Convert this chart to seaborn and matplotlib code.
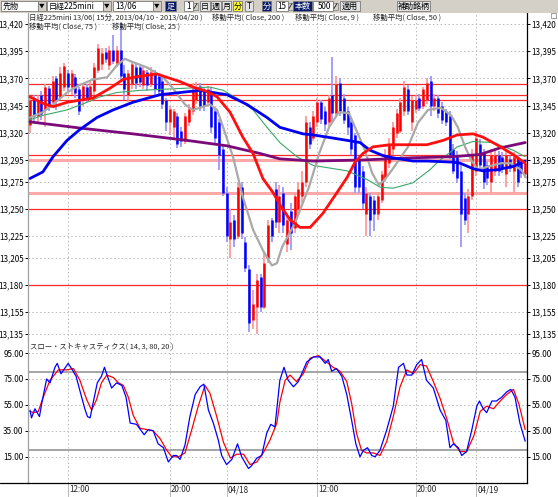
# 日経225mini 15分足チャート（移動平均＋スローストキャスティクス）
import numpy as np
import pandas as pd
import matplotlib.pyplot as plt
import matplotlib.transforms as mtransforms
from matplotlib.patches import Rectangle
import seaborn as sns

sns.set_style("white")
plt.rcParams['font.family'] = ['Noto Sans CJK JP', 'DejaVu Sans']

# ローソク足データ (15分足, 132本)
opens = [13327, 13352, 13335, 13355, 13341, 13361, 13348, 13370, 13353, 13362,
         13375, 13362, 13371, 13360, 13350, 13362, 13352, 13358, 13378, 13383,
         13394, 13382, 13396, 13384, 13396, 13375, 13355, 13365, 13380, 13380,
         13364, 13376, 13365, 13375, 13372, 13368, 13350, 13330, 13325, 13335,
         13322, 13312, 13330, 13340, 13350, 13363, 13358, 13348, 13357, 13340,
         13330, 13305, 13265, 13222, 13240, 13225, 13270, 13220, 13195, 13148,
         13160, 13187, 13160, 13205, 13240, 13268, 13238, 13265, 13218, 13248,
         13232, 13250, 13262, 13275, 13325, 13315, 13330, 13348, 13340, 13330,
         13355, 13338, 13366, 13352, 13340, 13330, 13318, 13295, 13285, 13245,
         13262, 13258, 13245, 13258, 13278, 13292, 13305, 13320, 13322, 13340,
         13360, 13330, 13342, 13352, 13345, 13350, 13368, 13345, 13352, 13345,
         13340, 13335, 13305, 13300, 13285, 13260, 13245, 13262, 13285, 13310,
         13302, 13290, 13275, 13285, 13300, 13298, 13282, 13296, 13285, 13298,
         13292, 13282]
closes = [13350, 13335, 13350, 13337, 13362, 13344, 13368, 13350, 13375, 13381,
          13362, 13375, 13357, 13340, 13363, 13352, 13363, 13380, 13398, 13393,
          13388, 13396, 13386, 13396, 13372, 13360, 13375, 13383, 13366, 13367,
          13378, 13364, 13376, 13360, 13358, 13346, 13330, 13342, 13340, 13310,
          13312, 13335, 13342, 13358, 13361, 13345, 13345, 13360, 13325, 13315,
          13300, 13265, 13225, 13238, 13222, 13270, 13228, 13196, 13145, 13163,
          13185, 13160, 13200, 13235, 13225, 13238, 13262, 13235, 13240, 13228,
          13262, 13268, 13275, 13330, 13310, 13335, 13348, 13333, 13328, 13352,
          13338, 13365, 13340, 13332, 13325, 13305, 13270, 13270, 13255, 13265,
          13240, 13245, 13262, 13282, 13300, 13310, 13325, 13338, 13348, 13362,
          13340, 13350, 13350, 13343, 13360, 13366, 13345, 13352, 13338, 13332,
          13330, 13300, 13285, 13278, 13245, 13240, 13262, 13300, 13315, 13290,
          13275, 13278, 13300, 13300, 13285, 13288, 13300, 13288, 13298, 13275,
          13283, 13292]
highs = [13353, 13355, 13355, 13358, 13365, 13363, 13372, 13372, 13380, 13384,
         13378, 13378, 13374, 13362, 13366, 13365, 13368, 13384, 13402, 13398,
         13398, 13400, 13410, 13400, 13422, 13382, 13378, 13386, 13383, 13383,
         13380, 13378, 13380, 13378, 13375, 13372, 13352, 13345, 13342, 13338,
         13325, 13338, 13346, 13366, 13367, 13366, 13362, 13363, 13362, 13342,
         13333, 13308, 13270, 13250, 13244, 13275, 13275, 13224, 13198, 13175,
         13190, 13190, 13210, 13240, 13242, 13275, 13272, 13270, 13245, 13255,
         13265, 13275, 13285, 13335, 13330, 13340, 13352, 13350, 13344, 13355,
         13390, 13372, 13370, 13356, 13344, 13334, 13320, 13298, 13289, 13270,
         13265, 13262, 13266, 13285, 13305, 13315, 13330, 13342, 13352, 13368,
         13364, 13354, 13355, 13356, 13362, 13370, 13372, 13356, 13355, 13348,
         13342, 13340, 13310, 13303, 13290, 13265, 13268, 13305, 13322, 13314,
         13305, 13294, 13305, 13304, 13303, 13302, 13304, 13299, 13302, 13300,
         13295, 13296]
lows = [13320, 13330, 13328, 13332, 13325, 13340, 13345, 13341, 13350, 13358,
        13358, 13355, 13352, 13336, 13345, 13348, 13348, 13355, 13375, 13378,
        13384, 13378, 13383, 13380, 13368, 13350, 13348, 13360, 13360, 13362,
        13360, 13358, 13362, 13355, 13355, 13342, 13322, 13318, 13315, 13306,
        13307, 13310, 13326, 13336, 13346, 13340, 13340, 13345, 13320, 13310,
        13286, 13262, 13220, 13205, 13215, 13222, 13222, 13192, 13137, 13140,
        13135, 13155, 13158, 13200, 13220, 13232, 13228, 13228, 13210, 13212,
        13228, 13245, 13255, 13270, 13305, 13312, 13325, 13328, 13322, 13326,
        13330, 13335, 13335, 13328, 13318, 13300, 13265, 13265, 13250, 13225,
        13225, 13230, 13240, 13255, 13275, 13288, 13300, 13315, 13320, 13335,
        13336, 13322, 13338, 13340, 13342, 13346, 13335, 13340, 13334, 13328,
        13326, 13296, 13282, 13274, 13215, 13235, 13228, 13258, 13280, 13285,
        13268, 13272, 13265, 13280, 13280, 13283, 13270, 13284, 13265, 13270,
        13278, 13278]

# 移動平均線 (足番号, 値)
ma9_x = [0, 3.4, 6.1, 9.8, 13.2, 16.7, 20.4, 23, 25.1, 27.2, 31, 35.2, 37.8, 41,
         43.1, 45, 47.6, 49.5, 51.1, 53.7, 56.3, 59, 61.6, 64, 65.3, 66.7, 70.1,
         73.8, 76.5, 79.1, 81.7, 84.4, 86, 88.6, 90.5, 92.3, 93.9, 95.8, 100,
         102.6, 105.3, 108.7, 111.4, 113.2, 115.1, 116.7, 118.5, 121.2, 124.6,
         127.2, 129.9, 131.2]
ma9_y = [13334, 13339, 13346, 13357, 13364, 13369, 13371, 13382, 13388, 13385,
         13380, 13371, 13361, 13346, 13341, 13343, 13346, 13341, 13325, 13298,
         13261, 13231, 13212, 13198, 13200, 13215, 13237, 13270, 13301, 13325,
         13339, 13338, 13325, 13304, 13283, 13272, 13277, 13286, 13307, 13329,
         13341, 13343, 13336, 13325, 13307, 13295, 13286, 13289, 13292, 13292,
         13286, 13279]
ma25_x = [0, 3.4, 9.8, 15.1, 18.5, 23, 29.1, 41.5, 47.6, 51.1, 55.6, 59, 62.7,
          66.1, 70.6, 74.9, 83.9, 89.2, 92.6, 96, 101.3, 105.8, 108.5, 113,
          117.2, 122.5, 127.8, 131]
ma25_y = [13332, 13336, 13341, 13348, 13353, 13357, 13359, 13361, 13362, 13359,
          13350, 13341, 13325, 13311, 13298, 13290, 13285, 13277, 13270, 13269,
          13274, 13286, 13295, 13307, 13312, 13311, 13304, 13298]
ma50_x = [0, 3.4, 6.1, 9.8, 16.7, 21.2, 24.6, 29.1, 33.6, 36.2, 39.7, 43.1,
          46.8, 49.5, 52.9, 56.3, 59, 61.6, 64.3, 66.1, 68.8, 71.4, 74.1, 77.5,
          81.2, 83.9, 86, 88.1, 90.7, 95.2, 105, 109.3, 113, 117.2, 119.8,
          123.5, 127.8, 131]
ma50_y = [13353, 13347, 13344, 13348, 13352, 13361, 13369, 13372, 13374, 13371,
          13367, 13362, 13358, 13353, 13339, 13316, 13301, 13278, 13265, 13254,
          13240, 13233, 13233, 13246, 13265, 13279, 13293, 13301, 13307, 13309,
          13309, 13313, 13318, 13319, 13316, 13309, 13300, 13292]
ma75_x = [0, 3.4, 6.1, 9.8, 13.2, 17.7, 22, 27.2, 34.4, 39.7, 45, 48.4, 52.1,
          57.4, 62.7, 66.1, 72.2, 74.9, 78.6, 83.9, 87.3, 89.9, 93.4, 96,
          101.3, 105, 111.9, 113.8, 117.2, 119.8, 123.5, 127.8, 131]
ma75_y = [13278, 13284, 13298, 13313, 13323, 13334, 13341, 13348, 13355, 13357,
          13359, 13357, 13355, 13346, 13334, 13325, 13319, 13318, 13316, 13313,
          13311, 13304, 13299, 13297, 13294, 13294, 13293, 13292, 13287, 13285,
          13286, 13289, 13294]
ma200_x = [0, 14, 27.2, 41.5, 52.1, 60.8, 66.1, 74.9, 88.1, 101.3, 111.9, 119,
           124.3, 131]
ma200_y = [13330, 13324, 13319, 13313, 13308, 13301, 13296, 13294, 13295, 13297,
           13298, 13300, 13306, 13311]

# スロー・ストキャスティクス
k_x = [0, 0.4, 1.3, 2.5, 3.1, 4.4, 5.3, 6.6, 7.2, 8.2, 10.1, 11, 12.2, 13.2,
       14.5, 15.2, 15.9, 16.8, 17.8, 18.9, 19.7, 20.5, 21.6, 22.9, 24.3, 25.4,
       26.5, 28.2, 30.2, 31.3, 32.6, 33.9, 35.3, 36.6, 37.9, 38.8, 39.7, 41,
       42.3, 43.7, 45, 46, 47.2, 48.5, 49.8, 50.7, 52, 53.4, 54.9, 56, 57.8,
       58.6, 60, 61.3, 62.6, 63.7, 64.8, 66.1, 67.2, 68.3, 69.7, 71, 73.2, 75,
       76.7, 78.1, 78.9, 79.8, 81.1, 82.5, 83.8, 85.1, 86.2, 87.3, 88.2, 89.3,
       90.4, 91.3, 92.6, 94.4, 96.1, 97.5, 98.8, 99.7, 101, 102.3, 103.6,
       104.9, 106.7, 108.5, 110, 111.1, 112, 113.3, 114.2, 115.5, 116.9, 118.2,
       118.9, 119.9, 120.8, 122.2, 123.4, 124.8, 126.1, 127.2, 128.3, 129.6, 131]
k_y = [51, 45, 52, 46, 56, 75, 72, 84, 87, 79, 87, 83, 77, 66, 52, 46, 45, 58,
       72, 77, 84, 77, 68, 72, 70, 61, 41, 40, 32, 36, 35, 25, 22, 11, 16, 16,
       13, 24, 46, 63, 69, 71, 51, 41, 28, 16, 9, 13, 25, 15, 6, 8, 14, 16, 33,
       40, 38, 74, 84, 74, 69, 73, 88, 92, 92, 87, 90, 81, 83, 77, 63, 43, 25,
       15, 20, 22, 16, 15, 20, 36, 54, 84, 87, 78, 78, 86, 90, 74, 68, 51, 43,
       22, 25, 22, 16, 19, 36, 54, 58, 52, 49, 58, 58, 61, 65, 67, 61, 41, 27]
d_x = [0, 1, 2.2, 3.5, 5.3, 7.5, 9.7, 11.5, 13.2, 15, 16.3, 17.6, 18.9, 20.3,
       22.1, 23.4, 24.7, 26, 27.3, 29.1, 30.9, 32.6, 34.4, 36.2, 37.5, 39.3, 41,
       42.8, 44.5, 46.3, 47.6, 49.4, 51.2, 53, 54.7, 56.5, 58.2, 60, 61.7, 63.5,
       65.3, 66.1, 67.5, 68.8, 70.5, 72.3, 74.1, 76.3, 78.5, 80.2, 82, 83.8,
       85.1, 86.4, 87.7, 89, 90.8, 92.6, 94.4, 96.1, 97.9, 99.7, 101.4, 103.2,
       104.9, 106.7, 108.5, 110.3, 112, 113.8, 115.5, 117.4, 119.1, 120.8,
       122.6, 124.4, 126.1, 127.9, 129.3, 131]
d_y = [50, 49, 50, 61, 74, 82, 82, 83, 74, 59, 51, 59, 72, 78, 76, 72, 70, 61,
       47, 37, 36, 35, 29, 20, 15, 15, 18, 36, 54, 70, 64, 46, 26, 14, 17, 17,
       9, 11, 18, 28, 41, 57, 74, 78, 73, 79, 91, 93, 88, 84, 81, 73, 56, 33,
       20, 18, 18, 16, 27, 46, 69, 82, 79, 86, 85, 73, 60, 44, 26, 19, 19, 31,
       50, 54, 52, 58, 63, 67, 56, 36]

price_ticks = [13420, 13395, 13370, 13345, 13320, 13295, 13275, 13250, 13225,
               13205, 13180, 13155, 13135]
price_labels = ['13,420', '13,395', '13,370', '13,345', '13,320', '13,295',
                '13,275', '13,250', '13,225', '13,205', '13,180', '13,155', '13,135']
stoch_ticks = [95, 75, 55, 35, 15]
stoch_labels = ['95.00', '75.00', '55.00', '35.00', '15.00']
time_ticks = [10, 37, 52, 76, 102, 118]
time_labels = ['12:00', '20:00', '04/18', '12:00', '20:00', '04/19']
red_levels = [13365, 13355, 13350, 13300, 13250, 13180]
pink_levels = [13295, 13265]
stoch_bands = [80, 20]

df = pd.DataFrame({'open': opens, 'high': highs, 'low': lows, 'close': closes})
df['idx'] = np.arange(len(df))
up = df['close'] >= df['open']

fig = plt.figure(figsize=(5.58, 4.97), dpi=100)
fig.patch.set_facecolor('white')
W, H = 558, 497

def px_axes(x0, y0, x1, y1):
    return [x0 / W, 1 - y1 / H, (x1 - x0) / W, (y1 - y0) / H]

ax = fig.add_axes(px_axes(28, 13, 527, 339))
ax2 = fig.add_axes(px_axes(28, 339, 527, 483), sharex=ax)
xlim = ((28 - 30) / 3.78, (527 - 30) / 3.78)
grid_kw = dict(color='#b8b8b8', lw=0.7, ls=(0, (1.5, 2.5)))
lab_font = 5.8

# --- 価格パネル ---
ax.set_xlim(*xlim)
ax.set_ylim(13130.4, 13430.1)
ax.set_yticks(price_ticks)
ax.set_yticklabels(price_labels)
ax.set_xticks(time_ticks)
for v in price_ticks:
    ax.axhline(v, zorder=0, **grid_kw)
for t in time_ticks:
    ax.axvline(t, zorder=0, **grid_kw)
for v in pink_levels:
    ax.axhline(v, color='#ffa8a8', lw=2.2, zorder=1)
for v in red_levels:
    ax.axhline(v, color='#ff2a2a', lw=0.9, zorder=1)

ax.vlines(df['idx'], df['low'], df['high'],
          colors=np.where(up, '#ff9a9a', '#9a9aff'), lw=1.3, zorder=2)
ax.vlines(df['idx'], df[['open', 'close']].min(axis=1), df[['open', 'close']].max(axis=1),
          colors=np.where(up, '#ff0000', '#0000ff'), lw=1.8, zorder=3)

sns.lineplot(x=ma25_x, y=ma25_y, ax=ax, color='#3aa86a', lw=0.8, zorder=4)
sns.lineplot(x=ma9_x, y=ma9_y, ax=ax, color='#a9a9a9', lw=1.6, zorder=4)
sns.lineplot(x=ma200_x, y=ma200_y, ax=ax, color='#7a0a7a', lw=2.0, zorder=5)
sns.lineplot(x=ma75_x, y=ma75_y, ax=ax, color='#0000f0', lw=2.0, zorder=5)
sns.lineplot(x=ma50_x, y=ma50_y, ax=ax, color='#ff1010', lw=2.0, zorder=5)

# --- ストキャスティクス ---
ax2.set_ylim(-5.2, 105.8)
ax2.set_yticks(stoch_ticks)
ax2.set_yticklabels(stoch_labels)
for v in stoch_ticks:
    ax2.axhline(v, zorder=0, **grid_kw)
for t in time_ticks:
    ax2.axvline(t, zorder=0, **grid_kw)
for v in stoch_bands:
    ax2.axhline(v, color='#8c8c8c', lw=1.1, zorder=1)
sns.lineplot(x=d_x, y=d_y, ax=ax2, color='#ff0000', lw=0.9, zorder=3)
sns.lineplot(x=k_x, y=k_y, ax=ax2, color='#0000ff', lw=0.9, zorder=4)
ax2.set_xticks(time_ticks)
ax2.set_xticklabels([''] * len(time_ticks))
trans = mtransforms.blended_transform_factory(ax2.transData, ax2.transAxes)
for t, lab in zip(time_ticks, time_labels):
    ax2.text(t + 0.3, -0.048, lab, transform=trans, ha='left', va='center',
             fontsize=lab_font, clip_on=False)

for a in (ax, ax2):
    a.set_xlabel('')
    a.set_ylabel('')
    a.spines['top'].set_visible(False)
    a.spines['left'].set_color('#a0a0a0')
    a.spines['right'].set_color('black')
    a.spines['left'].set_linewidth(0.9)
    a.spines['right'].set_linewidth(0.9)
    a.tick_params(axis='y', left=True, right=True, labelleft=True, labelright=True,
                  length=2.2, width=0.7, pad=1, labelsize=lab_font, colors='black')
    a.tick_params(axis='x', bottom=False, labelbottom=False)
ax.spines['bottom'].set_visible(False)
ax2.spines['bottom'].set_color('black')
ax2.spines['bottom'].set_linewidth(0.9)
ax2.tick_params(axis='x', bottom=True, length=10, width=0.7, color='#b8b8b8',
                direction='out')

# --- 上部のツールバーと凡例文字 (ピクセル座標) ---
ui = fig.add_axes([0, 0, 1, 1], zorder=10)
ui.set_xlim(0, W)
ui.set_ylim(H, 0)
ui.axis('off')
ui.patch.set_alpha(0)
ui.add_patch(Rectangle((0, 0), W, 12.5, facecolor='#d4d0c8', edgecolor='none'))
ui.plot([0, 28], [483, 483], color='black', lw=0.9)

def box(x0, x1, text, face='white', color='black', edge='#7a7a7a', ha='center'):
    ui.add_patch(Rectangle((x0, 1.2), x1 - x0, 9.8, facecolor=face, edgecolor=edge, lw=0.6))
    if text:
        tx = (x0 + x1) / 2 if ha == 'center' else (x0 + 2 if ha == 'left' else x1 - 2)
        ui.text(tx, 6.3, text, ha=ha, va='center', fontsize=5.8, color=color)

def drop(x0, x1):
    box(x0, x1, '', face='#d4d0c8')
    ui.text((x0 + x1) / 2, 6.3, '▼', ha='center', va='center', fontsize=4, color='black')

def icon(x0):
    ui.add_patch(Rectangle((x0, 2.5), 5, 7, facecolor='#d4d0c8', edgecolor='#7a7a7a', lw=0.5))
    ui.plot([x0 + 1, x0 + 4], [8.5, 3.5], color='black', lw=0.5)

box(1, 38, '先物', ha='left'); drop(38, 46)
box(47, 103, '日経225mini', ha='left'); drop(103, 111)
box(113, 153, '13/06', ha='left'); drop(153, 161)
box(165, 176, '足', face='#0a1a6a', color='white')
box(184, 193, '1', ha='right'); icon(193)
box(200, 210, '日', face='#e4e4e4')
box(211, 221, '週', face='#e4e4e4')
box(222, 231, '月', face='#e4e4e4')
box(233, 242, '分', face='#ffff30')
box(245, 253, 'T', face='#e4e4e4')
box(262, 271, '分', face='#0a1a6a', color='white')
box(276, 288, '15', ha='right'); icon(288)
box(293, 312, '本数', face='#0a1a6a', color='white')
box(313, 333, '500', ha='right'); icon(333)
box(340, 360, '適用', face='#e4e4e4')
box(397, 430, '補助銘柄', face='#e4e4e4')
ui.add_patch(Rectangle((551, 13), 5, 5, facecolor='white', edgecolor='#7a7a7a', lw=0.5))

tfs = 5.3
ui.text(29, 18, '日経225mini 13/06( 15分, 2013/04/10 - 2013/04/20 )', fontsize=tfs, va='center')
ui.text(212, 18, '移動平均( Close, 200 )', fontsize=tfs, va='center')
ui.text(295, 18, '移動平均( Close, 9 )', fontsize=tfs, va='center')
ui.text(373, 18, '移動平均( Close, 50 )', fontsize=tfs, va='center')
ui.text(29, 26.5, '移動平均( Close, 75 )', fontsize=tfs, va='center')
ui.text(112, 26.5, '移動平均( Close, 25 )', fontsize=tfs, va='center')
ui.text(30, 347, 'スロー・ストキャスティクス( 14, 3, 80, 20 )', fontsize=tfs, va='center')

fig.savefig('out.png', dpi=100)
